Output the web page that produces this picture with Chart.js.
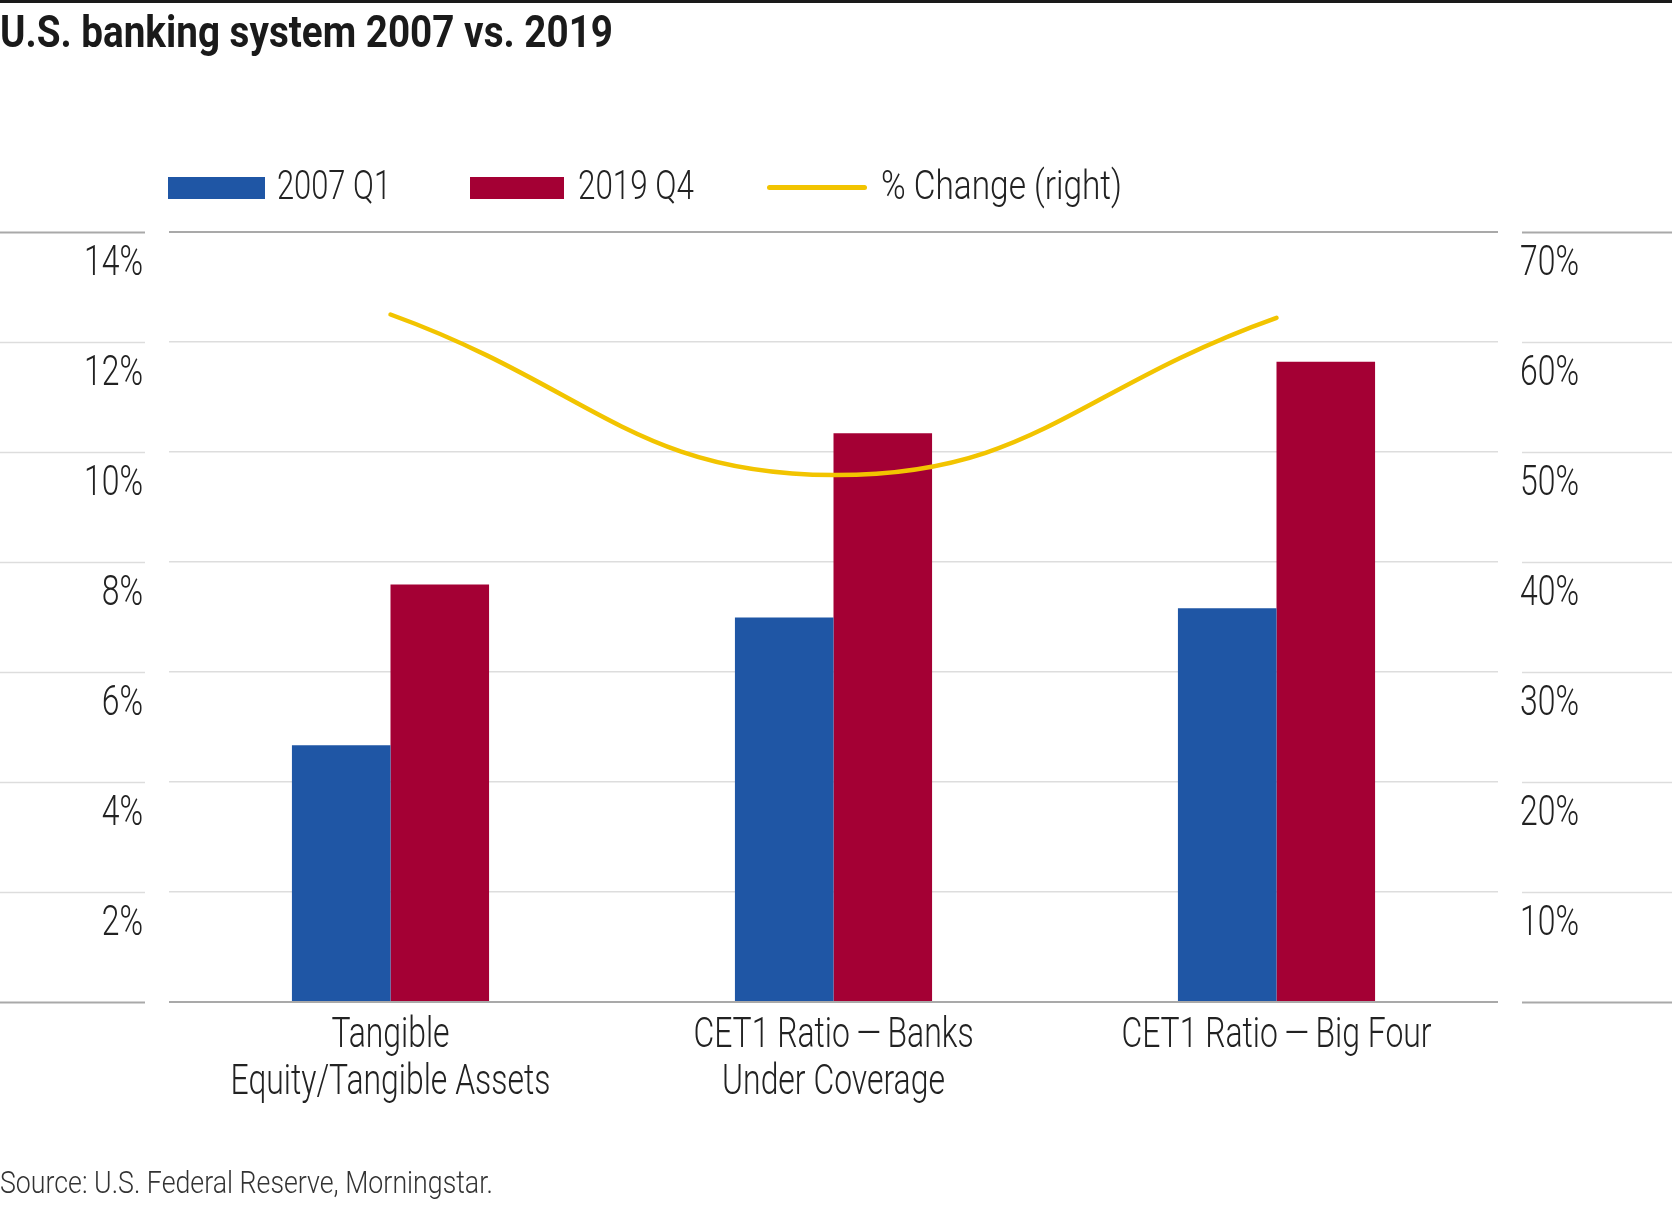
<!DOCTYPE html>
<html>
<head>
<meta charset="utf-8">
<title>U.S. banking system 2007 vs. 2019</title>
<script src="https://cdn.jsdelivr.net/npm/chart.js@4.4.1/dist/chart.umd.min.js"></script>
<style>
  html, body { margin: 0; padding: 0; background: #fff; }
  #page { position: relative; width: 1672px; height: 1230px; overflow: hidden; }
  #topRule { position: absolute; left: 0; top: 0; width: 1672px; height: 3px; background: #1a1a1a; }
  .txt {
    position: absolute; margin: 0; white-space: nowrap; line-height: 1;
    font-family: Roboto, 'DejaVu Sans', sans-serif; font-weight: 300;
    color: #222; transform-origin: 0 0;
  }
  #title { left: 0; top: 9px; font-size: 45px; font-weight: 700; color: #1a1a1a; }
  .legend-text { top: 165px; font-size: 41px; }
  .legend-swatch { position: absolute; }
  #source { left: 0; top: 1166px; font-size: 32px; color: #333; }
  #chartWrap { position: absolute; left: 0; top: 0; width: 1672px; height: 1230px; }
</style>
</head>
<body>
<div id="page">
  <div id="chartWrap"><canvas id="bankChart" width="1672" height="1230"></canvas></div>
  <div id="topRule"></div>
  <h1 id="title" class="txt" data-width="613">U.S. banking system 2007 vs. 2019</h1>
  <div id="legend"></div>
  <div id="source" class="txt" data-width="493">Source: U.S. Federal Reserve, Morningstar.</div>
</div>

<script>
// Chart data
const categories = [
  ['Tangible', 'Equity/Tangible Assets'],
  ['CET1 Ratio\u2009\u2014\u2009Banks', 'Under Coverage'],
  ['CET1 Ratio\u2009\u2014\u2009Big Four']
];
const values2007 = [4.67, 6.99, 7.16];
const values2019 = [7.59, 10.34, 11.64];
const pctChange = [62.5, 47.9, 62.2];
const leftTicks = [0, 2, 4, 6, 8, 10, 12, 14];
const rightTicks = [0, 10, 20, 30, 40, 50, 60, 70];
const seriesNames = ['2007 Q1', '2019 Q4', '% Change (right)'];

const COLORS = {
  blue: '#1F56A5',
  red: '#A40034',
  yellow: '#F2C400',
  gridLight: '#DDDDDD',
  gridDark: '#A9A9A9',
  text: '#222222'
};

// Condensed look: light Roboto squeezed horizontally
const CONDENSE = 0.76;
const LABEL_FONT = "300 42px Roboto, 'DejaVu Sans', sans-serif";

// Layout of the plot area
const AREA = { left: 169, right: 1498, top: 232, bottom: 1002 };

function gridColor(value) {
  return (value === leftTicks[0] || value === leftTicks[leftTicks.length - 1]) ? COLORS.gridDark : COLORS.gridLight;
}

// squeeze an html text to the width it has in the original
function fitWidth(el) {
  const w = el.getBoundingClientRect().width;
  el.style.transform = `scaleX(${Number(el.dataset.width) / w})`;
}

function buildHeader() {
  const legend = document.getElementById('legend');
  const items = [
    { box: [168, 177, 97, 22], color: COLORS.blue, textLeft: 277, textWidth: 114, text: seriesNames[0] },
    { box: [470, 177, 94, 22], color: COLORS.red, textLeft: 578, textWidth: 116, text: seriesNames[1] },
    { box: [767, 185, 100, 5], color: COLORS.yellow, textLeft: 881, textWidth: 241, text: seriesNames[2], round: true }
  ];
  legend.innerHTML = items.map(item => `
    <span class="legend-swatch" style="left:${item.box[0]}px;top:${item.box[1]}px;width:${item.box[2]}px;height:${item.box[3]}px;background:${item.color};${item.round ? 'border-radius:3px;' : ''}"></span>
    <span class="txt legend-text" data-width="${item.textWidth}" style="left:${item.textLeft}px">${item.text}</span>
  `).join('');

  document.querySelectorAll('.txt[data-width]').forEach(fitWidth);
}

function drawCondensed(ctx, text, x, y, align) {
  ctx.save();
  ctx.translate(x, y);
  ctx.scale(CONDENSE, 1);
  ctx.textAlign = align;
  ctx.fillText(text, 0, 0);
  ctx.restore();
}

// Grid stubs drawn outside the plot area, next to the tick labels
const gridStubs = {
  id: 'gridStubs',
  beforeDatasetsDraw(chart) {
    const { ctx } = chart;
    const y = chart.scales.y;
    ctx.save();
    leftTicks.forEach(v => {
      const py = Math.round(y.getPixelForValue(v)) + 0.5;
      ctx.strokeStyle = gridColor(v);
      ctx.lineWidth = (v === 0 || v === 14) ? 2 : 1.5;
      ctx.beginPath();
      ctx.moveTo(0, py);
      ctx.lineTo(145, py);
      ctx.moveTo(1522, py);
      ctx.lineTo(1672, py);
      ctx.stroke();
    });
    ctx.restore();
  }
};

// Tick labels in the condensed light style, placed from the scales
const axisLabels = {
  id: 'axisLabels',
  afterDraw(chart) {
    const { ctx, scales } = chart;
    ctx.save();
    ctx.fillStyle = COLORS.text;
    ctx.font = LABEL_FONT;
    ctx.textBaseline = 'alphabetic';

    scales.x.ticks.forEach((tick, i) => {
      const px = scales.x.getPixelForTick(i);
      [].concat(categories[i]).forEach((line, j) => {
        drawCondensed(ctx, line, px, AREA.bottom + 45 + j * 47, 'center');
      });
    });

    scales.y.ticks.forEach(tick => {
      if (tick.value === 0) return;
      const py = scales.y.getPixelForValue(tick.value);
      drawCondensed(ctx, tick.value + '%', 143, py + 43, 'right');
    });

    scales.y1.ticks.forEach(tick => {
      if (tick.value === 0) return;
      const py = scales.y1.getPixelForValue(tick.value);
      drawCondensed(ctx, tick.value + '%', 1520, py + 43, 'left');
    });
    ctx.restore();
  }
};

function createChart() {
  const ctx = document.getElementById('bankChart');

  new Chart(ctx, {
    data: {
      labels: categories,
      datasets: [
        {
          type: 'line',
          label: seriesNames[2],
          data: pctChange,
          yAxisID: 'y1',
          borderColor: COLORS.yellow,
          borderWidth: 4.5,
          borderCapStyle: 'round',
          tension: 0.45,
          pointRadius: 0,
          fill: false,
          order: 0
        },
        {
          type: 'bar',
          label: seriesNames[0],
          data: values2007,
          yAxisID: 'y',
          backgroundColor: COLORS.blue,
          categoryPercentage: 0.445,
          barPercentage: 1.0,
          order: 1
        },
        {
          type: 'bar',
          label: seriesNames[1],
          data: values2019,
          yAxisID: 'y',
          backgroundColor: COLORS.red,
          categoryPercentage: 0.445,
          barPercentage: 1.0,
          order: 1
        }
      ]
    },
    options: {
      responsive: false,
      animation: false,
      devicePixelRatio: 1,
      layout: { padding: { top: AREA.top, left: 0, right: 0, bottom: 0 } },
      plugins: {
        legend: { display: false },
        title: { display: false },
        tooltip: { enabled: false }
      },
      scales: {
        x: {
          offset: true,
          grid: { display: false },
          border: { display: false },
          ticks: { display: false, autoSkip: false },
          afterFit: scale => { scale.height = 1230 - AREA.bottom; }
        },
        y: {
          position: 'left',
          min: leftTicks[0],
          max: leftTicks[leftTicks.length - 1],
          afterBuildTicks: scale => { scale.ticks = leftTicks.map(v => ({ value: v })); },
          grid: {
            drawTicks: false,
            color: c => gridColor(c.tick.value),
            lineWidth: c => (c.tick.value === 0 || c.tick.value === 14) ? 2 : 1.5
          },
          border: { display: false },
          ticks: { display: false },
          afterFit: scale => { scale.width = AREA.left; }
        },
        y1: {
          position: 'right',
          min: rightTicks[0],
          max: rightTicks[rightTicks.length - 1],
          afterBuildTicks: scale => { scale.ticks = rightTicks.map(v => ({ value: v })); },
          grid: { drawOnChartArea: false, drawTicks: false },
          border: { display: false },
          ticks: { display: false },
          afterFit: scale => { scale.width = 1672 - AREA.right; }
        }
      }
    },
    plugins: [gridStubs, axisLabels]
  });
}

buildHeader();
createChart();
</script>
</body>
</html>
